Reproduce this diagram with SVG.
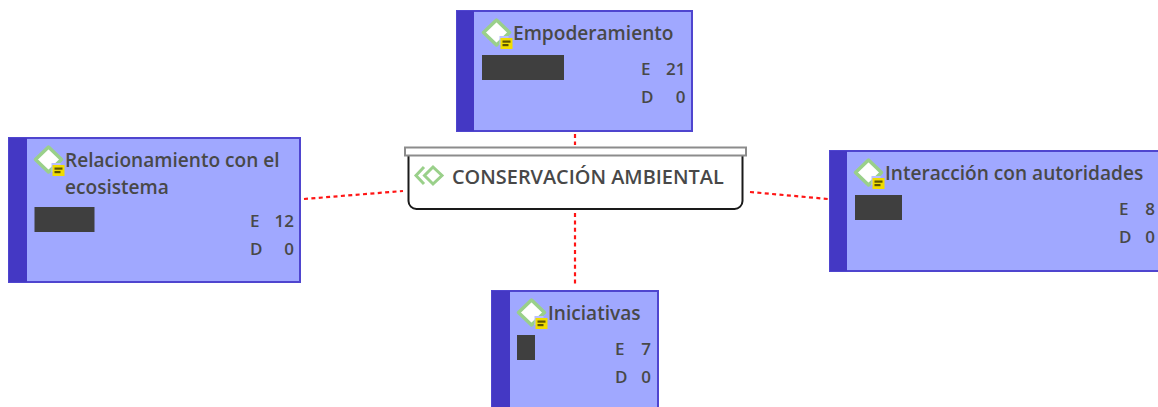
<svg xmlns="http://www.w3.org/2000/svg" width="1158" height="407" viewBox="0 0 1158 407">
<style>
text{font-family:"Open Sans","Noto Sans","Liberation Sans",sans-serif;fill:#484848;font-weight:600}
.t{font-size:19.100px}
.s{font-size:17px}
.c{font-size:19.900px}
.m{text-anchor:end}
.box{fill:#a0a8ff;stroke:#4f45cf;stroke-width:2}
.bar{fill:#4438c4}
.red{fill:#3f3f3f}
.con{stroke:#ff1515;stroke-width:2.200;stroke-dasharray:4 3.400;fill:none}
</style>
<defs>
<g id="ic">
<path d="M-.5-13 12.500-.5-.5 12-13.500-.5Z" fill="#fff" stroke="#9ad08a" stroke-width="3.500" stroke-linejoin="round"/>
<rect x="2.500" y="3" width="9" height="9" fill="#b9beff"/>
<rect x="3.500" y="5" width="12" height="11" fill="#f0dc00"/>
<rect x="5.500" y="7.500" width="8" height="2.200" fill="#5c5400"/>
<rect x="5.500" y="11" width="6" height="2.200" fill="#5c5400"/>
</g>
</defs>
<g id="connectors">
<path class="con" d="M575 134V145"/>
<path class="con" d="M575 213V287"/>
<path class="con" d="M304 199 403 191"/>
<path class="con" d="M750 192 828 199"/>
</g>
<g id="node-empoderamiento">
<rect class="box" x="457" y="11" width="235" height="120"/>
<rect class="bar" x="457" y="11" width="17" height="120"/>
<use href="#ic" x="497" y="33"/>
<text class="t" x="513" y="40">Empoderamiento</text>
<rect class="red" x="482" y="55" width="82" height="25"/>
<text class="s" x="641" y="75">E</text><text class="s m" x="685.500" y="75">21</text>
<text class="s" x="641" y="103">D</text><text class="s m" x="685.500" y="103">0</text>
</g>
<g id="node-relacionamiento">
<rect class="box" x="9" y="138" width="291" height="144"/>
<rect class="bar" x="9" y="138" width="18" height="144"/>
<use href="#ic" x="49" y="160"/>
<text class="t" x="65" y="167">Relacionamiento con el</text>
<text class="t" x="65" y="194">ecosistema</text>
<rect class="red" x="34.500" y="207" width="60" height="25"/>
<text class="s" x="250" y="227">E</text><text class="s m" x="294" y="227">12</text>
<text class="s" x="250" y="255">D</text><text class="s m" x="294" y="255">0</text>
</g>
<g id="node-interaccion">
<rect class="box" x="830" y="151" width="340" height="120"/>
<rect class="bar" x="830" y="151" width="17" height="120"/>
<use href="#ic" x="869" y="173"/>
<text class="t" x="885" y="180">Interacción con autoridades</text>
<rect class="red" x="855" y="195" width="47" height="25"/>
<text class="s" x="1119" y="215">E</text><text class="s m" x="1155" y="215">8</text>
<text class="s" x="1119" y="243">D</text><text class="s m" x="1155" y="243">0</text>
</g>
<g id="node-iniciativas">
<rect class="box" x="492" y="291" width="166" height="130"/>
<rect class="bar" x="492" y="291" width="18" height="130"/>
<use href="#ic" x="532" y="313"/>
<text class="t" x="548" y="320">Iniciativas</text>
<rect class="red" x="517" y="335" width="18" height="25"/>
<text class="s" x="615" y="355">E</text><text class="s m" x="651" y="355">7</text>
<text class="s" x="615" y="383">D</text><text class="s m" x="651" y="383">0</text>
</g>
<g id="node-conservacion">
<path d="M408.500 153V201a8 8 0 0 0 8 8H734.500a8 8 0 0 0 8-8V153Z" fill="#fff" stroke="#1a1a1a" stroke-width="2"/>
<rect x="405" y="147.500" width="341" height="8" fill="#fff" stroke="#8c8c8c" stroke-width="2"/>
<path d="M424 167 416 175.500 424 184M433 167 424.500 175.500 433 184 442 175.500Z" fill="none" stroke="#9ad08a" stroke-width="3"/>
<text class="c" x="452" y="183.500">CONSERVACIÓN AMBIENTAL</text>
</g>
</svg>
